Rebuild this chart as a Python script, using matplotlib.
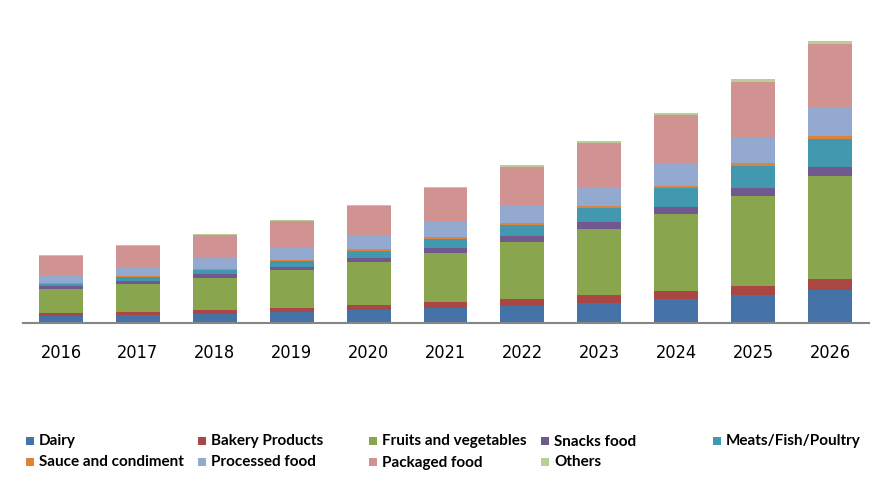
import matplotlib
matplotlib.use("Agg")
import matplotlib.pyplot as plt
from matplotlib.patches import Rectangle
from matplotlib import font_manager as fm
import numpy as np

years = ["2016", "2017", "2018", "2019", "2020", "2021", "2022", "2023", "2024", "2025", "2026"]
series_names = ["Dairy", "Bakery Products", "Fruits and vegetables", "Snacks food",
                "Meats/Fish/Poultry", "Sauce and condiment", "Processed food",
                "Packaged food", "Others"]
colors = ["#4572A7", "#AA4643", "#89A54E", "#71588F", "#4198AF",
          "#DB843D", "#93A9CF", "#D19392", "#B9CD96"]

dairy      = [7.0, 8.0, 9.3, 11.3, 13.3, 15.3, 17.3, 20.0, 24.0, 28.0, 33.3]
bakery     = [3.0, 3.0, 3.7, 3.7, 4.7, 5.7, 6.7, 8.0, 8.0, 9.3, 10.7]
fruits     = [24.0, 28.0, 32.0, 38.0, 43.0, 49.0, 57.0, 66.0, 77.0, 89.7, 103.0]
snacks     = [3.0, 3.0, 4.0, 3.0, 4.3, 5.0, 6.0, 7.0, 7.0, 8.0, 9.0]
meats      = [2.3, 4.0, 4.0, 6.0, 6.7, 9.0, 11.0, 14.3, 19.3, 22.3, 28.0]
sauce      = [0.7, 1.3, 1.0, 1.0, 2.0, 2.0, 2.0, 2.0, 2.0, 2.7, 3.3]
processed  = [7.7, 8.7, 11.0, 12.3, 13.3, 15.3, 17.0, 18.4, 22.0, 25.3, 28.0]
packaged   = [19.3, 21.0, 23.0, 26.4, 29.7, 33.7, 39.0, 44.3, 48.7, 56.0, 63.7]
others     = [1.0, 1.0, 1.0, 1.3, 1.0, 1.0, 2.0, 2.0, 2.0, 3.0, 3.0]

data = [dairy, bakery, fruits, snacks, meats, sauce, processed, packaged, others]

# pick the narrowest available font for the year labels
def narrow_font():
    entries = fm.fontManager.ttflist
    for e in entries:
        if e.name == "Liberation Sans Narrow" and e.weight in (400, "normal", "regular") and e.style == "normal":
            return fm.FontProperties(fname=e.fname)
    for e in entries:
        if e.name == "DejaVu Sans" and "condensed" in str(e.stretch).lower() and e.style == "normal" \
                and e.weight in (400, "normal", "regular"):
            return fm.FontProperties(fname=e.fname)
    for e in entries:
        if "Condensed" in e.fname and e.style == "normal" and "Bold" not in e.fname:
            return fm.FontProperties(fname=e.fname)
    return fm.FontProperties(family=["Liberation Sans", "DejaVu Sans"])

W, H = 892, 483
fig = plt.figure(figsize=(W / 100, H / 100), dpi=100)
ax = fig.add_axes([22.5 / W, (H - 323) / H, 846 / W, 293 / H])

x = np.arange(len(years))
bottom = np.zeros(len(years))
for vals, col in zip(data, colors):
    vals = np.array(vals)
    ax.bar(x, vals, width=0.57, bottom=bottom, color=col, linewidth=0)
    bottom += vals

ax.set_xlim(-0.5, len(years) - 0.5)
ax.set_ylim(0, 293)
ax.set_yticks([])
ax.set_xticks(x)
fp = narrow_font()
fp.set_size(13)
ax.set_xticklabels(years, fontproperties=fp, color="#000000")
ax.tick_params(axis="x", length=0, pad=15)
for s in ["top", "left", "right"]:
    ax.spines[s].set_visible(False)
ax.spines["bottom"].set_color("#868686")
ax.spines["bottom"].set_linewidth(1.5)

# legend laid out on a fixed grid (row-major like the reference)
col_x = [26, 198, 369, 541, 713]
row_y = [440.5, 461.5]
sq = 8
for i, (name, col) in enumerate(zip(series_names, colors)):
    r, c = divmod(i, 5)
    px, py = col_x[c], row_y[r]
    fig.patches.append(Rectangle((px / W, 1 - (py + sq / 2) / H), sq / W, sq / H,
                                 transform=fig.transFigure, color=col, linewidth=0))
    fig.text((px + sq + 5) / W, 1 - (py + 5) / H, name, fontsize=11, fontweight="bold",
             va="baseline", ha="left", family=["Lato", "DejaVu Sans"], color="#000000")

fig.savefig("out.png", dpi=100)
